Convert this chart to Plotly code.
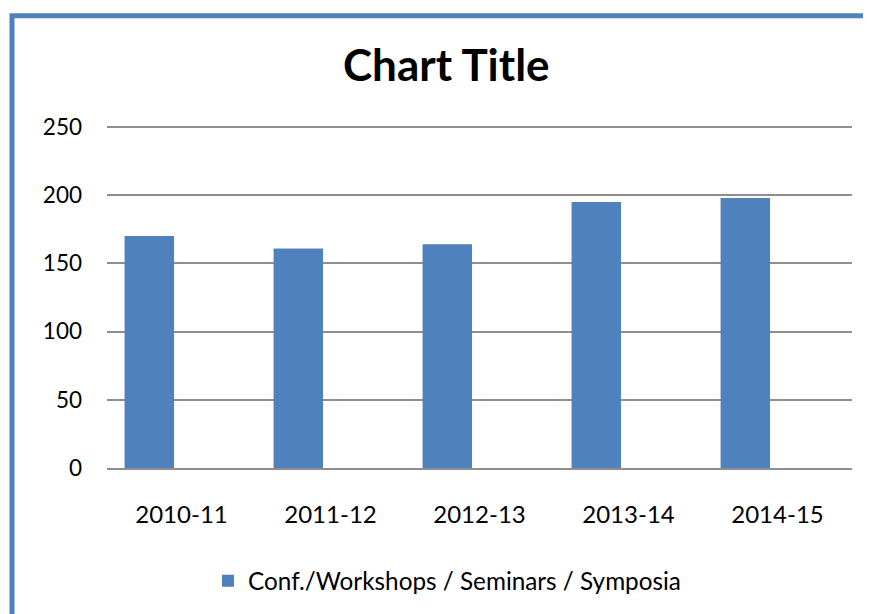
import plotly.graph_objects as go

categories = ["2010-11", "2011-12", "2012-13", "2013-14", "2014-15"]
values = [170, 161, 164, 195, 198]
series_name = "Conf./Workshops / Seminars / Symposia"
y_ticks = [0, 50, 100, 150, 200, 250]

PAGE_OFF = 8  # default body margin of the html page
W, H = 871 - PAGE_OFF, 614 - PAGE_OFF
# plot area in page pixels: x 107..852, y 125..469 (250 gridline at ~127)
L = 107 - PAGE_OFF
R = W - (852 - PAGE_OFF)
T = 125 - PAGE_OFF
B = H - (469 - PAGE_OFF)
PW = W - L - R
PH = H - T - B
Y_TOP = PH / 1.368  # keeps 250 just inside so its gridline is drawn

def px_x(px):
    return (px - PAGE_OFF - L) / PW

def px_y(py):
    return (H - B - (py - PAGE_OFF)) / PH

BLUE = "#4f81bd"
GRID = "#8f8f8f"
FONT = "Lato"

fig = go.Figure()
fig.add_trace(go.Bar(
    x=categories,
    y=values,
    name=series_name,
    marker=dict(color=BLUE, line=dict(width=0)),
    offset=-0.382,
    width=0.332,
))

fig.update_layout(
    width=W, height=H,
    margin=dict(l=L, r=R, t=T, b=B),
    paper_bgcolor="white",
    plot_bgcolor="white",
    font=dict(family=FONT, color="#000000", size=23),
    showlegend=True,
    legend=dict(
        orientation="h",
        x=px_x(447), xanchor="center",
        y=px_y(581), yanchor="middle",
        font=dict(family=FONT, size=24.3, color="#000000"),
        bgcolor="rgba(0,0,0,0)",
    ),
    xaxis=dict(
        type="category",
        range=[-0.5, 4.5],
        showgrid=False,
        showline=True,
        linecolor=GRID,
        linewidth=2,
        ticks="",
        tickfont=dict(family=FONT, size=24, color="#000000"),
        ticklabelstandoff=24,
        zeroline=False,
    ),
    yaxis=dict(
        range=[0, Y_TOP],
        tickvals=y_ticks,
        showgrid=True,
        gridcolor=GRID,
        gridwidth=2,
        showline=False,
        zeroline=False,
        ticks="",
        tickfont=dict(family=FONT, size=22.5, color="#000000"),
        ticklabelstandoff=24,
    ),
    annotations=[dict(
        text="<b>Chart Title</b>",
        xref="paper", yref="paper",
        x=px_x(446.5), y=px_y(64),
        xanchor="center", yanchor="middle",
        showarrow=False,
        font=dict(family=FONT, size=44, color="#000000"),
    )],
    shapes=[dict(
        type="rect", xref="paper", yref="paper",
        x0=px_x(12), x1=px_x(950),
        y0=px_y(700), y1=px_y(15.5),
        line=dict(color=BLUE, width=5),
        fillcolor="rgba(0,0,0,0)",
        layer="above",
    )],
)

fig.write_html("out.html")
